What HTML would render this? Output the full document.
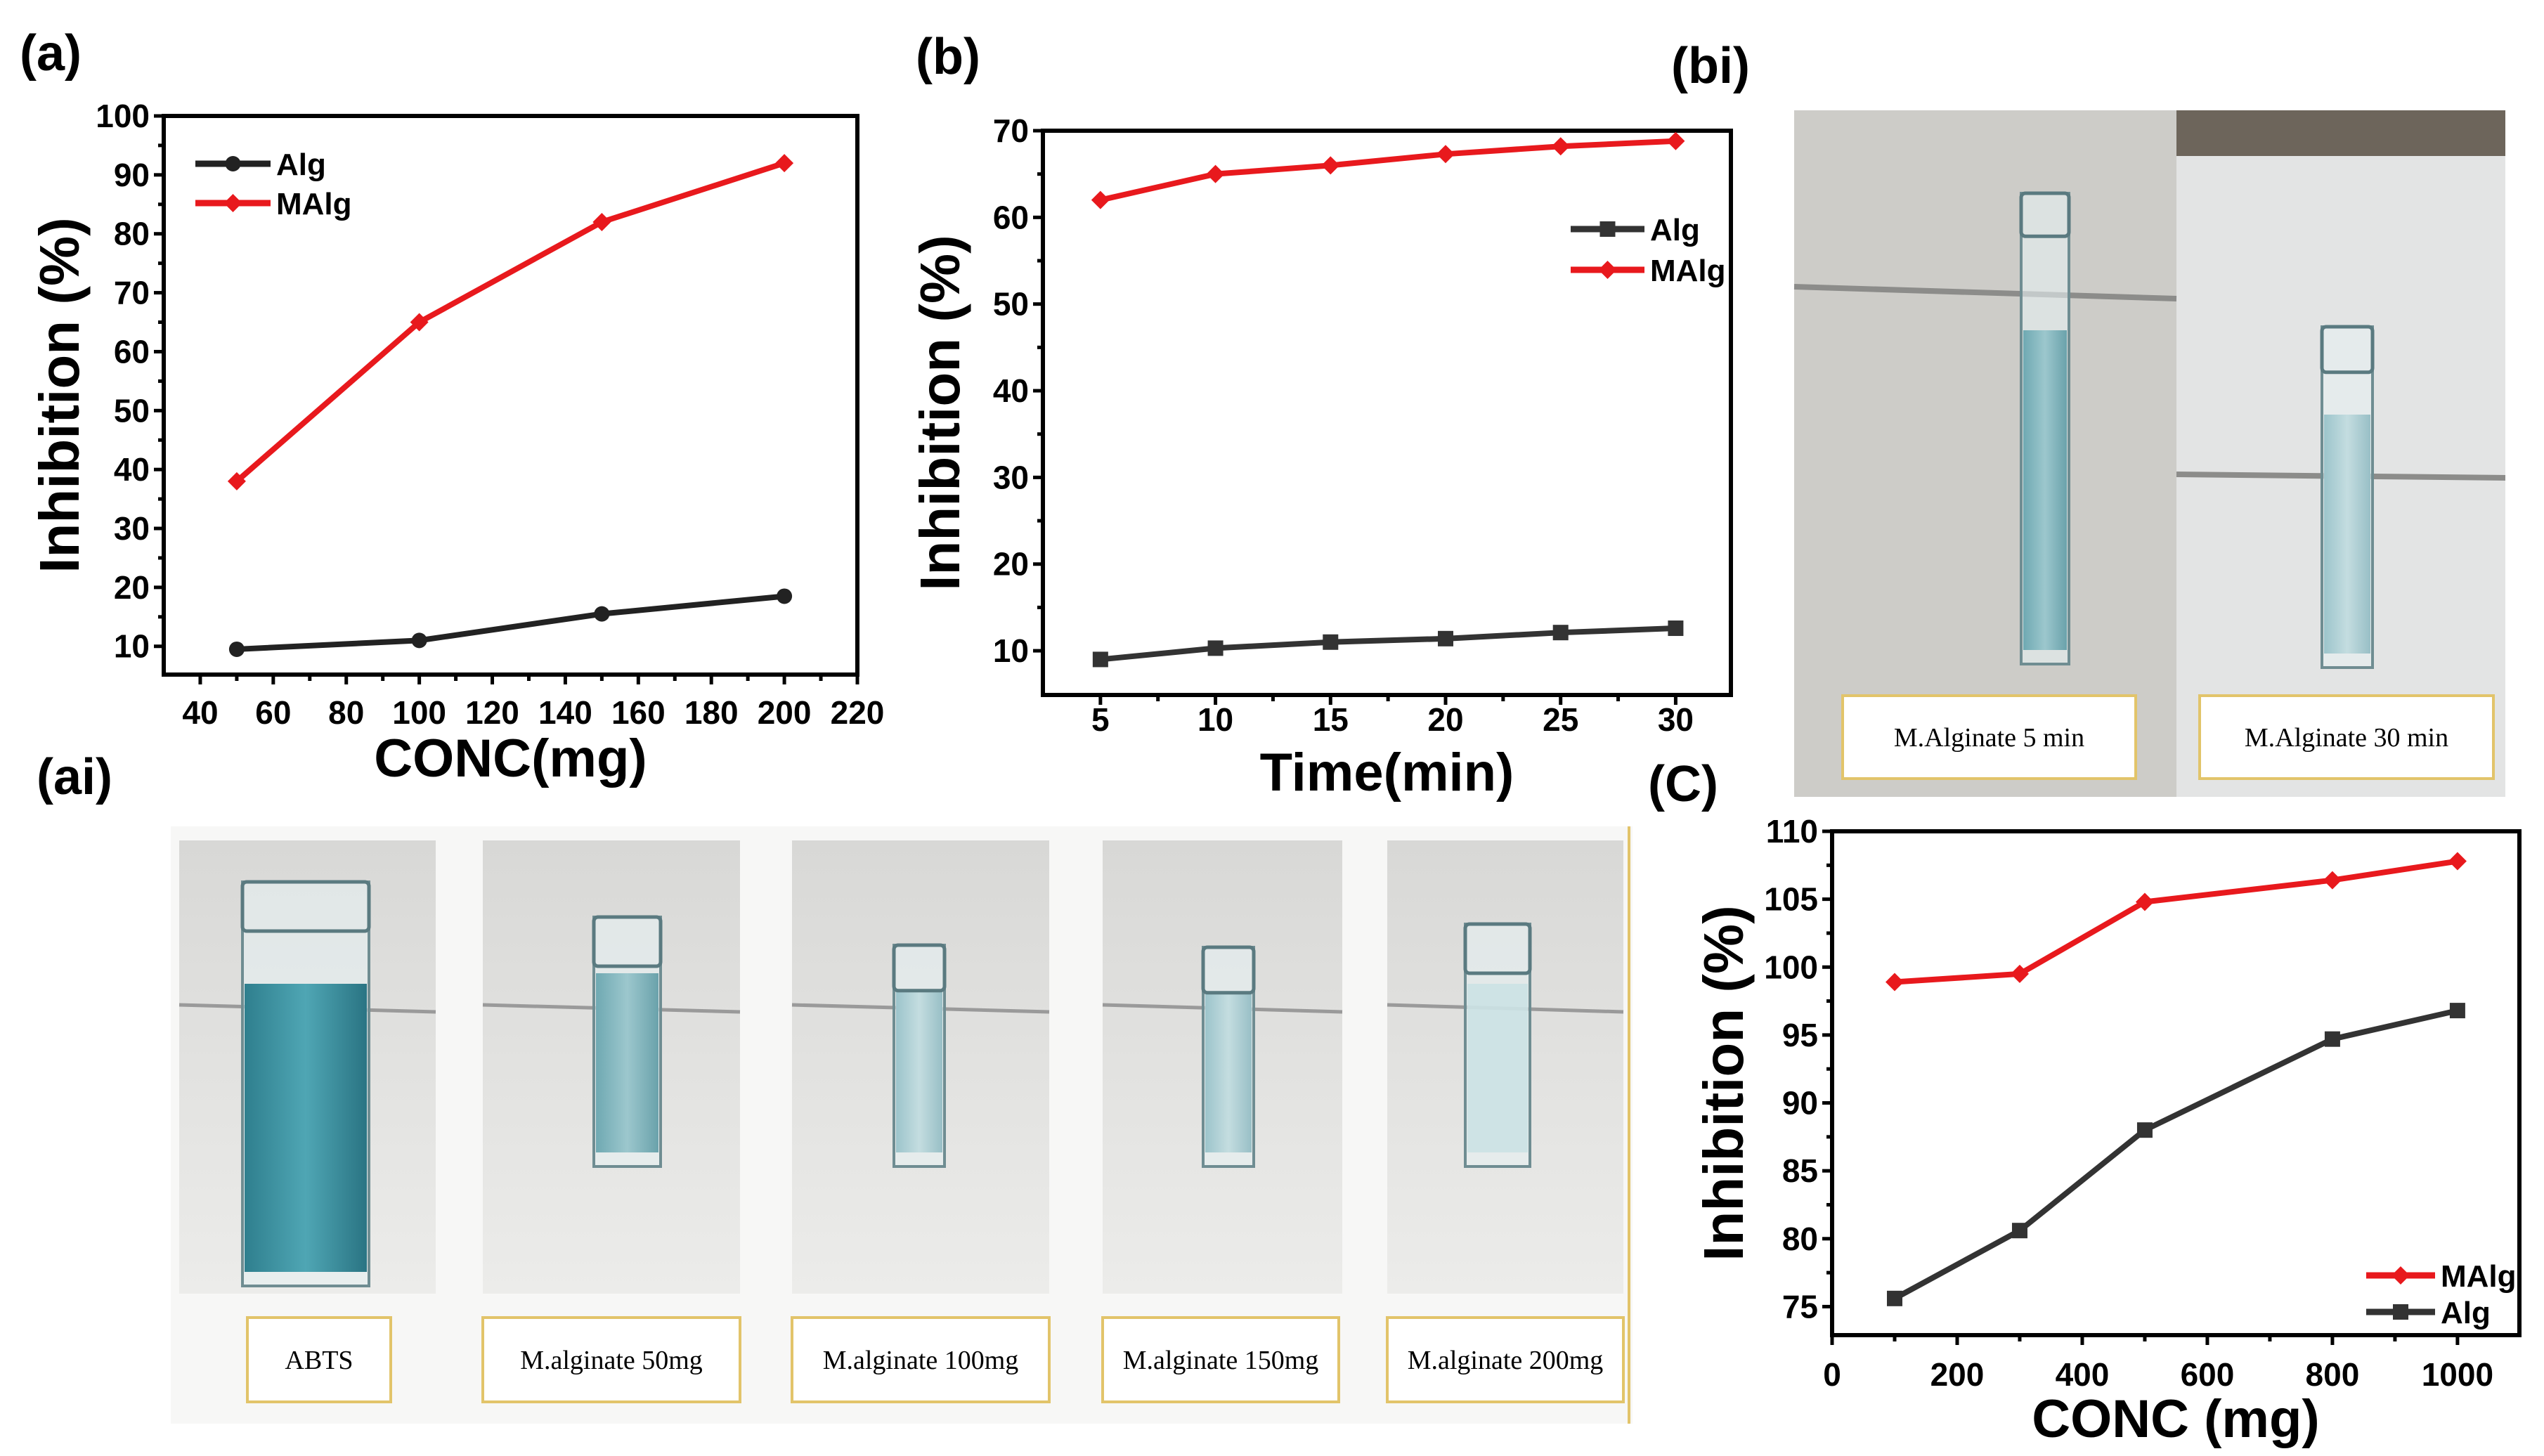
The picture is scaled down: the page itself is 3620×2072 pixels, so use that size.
<!DOCTYPE html>
<html><head><meta charset="utf-8"><style>
html,body{margin:0;padding:0;background:#fff}
svg{display:block}
text{font-family:"Liberation Sans",Arial,sans-serif}
</style></head><body>
<svg id="fig" width="3620" height="2072" viewBox="0 0 3620 2072" xmlns="http://www.w3.org/2000/svg">
<defs>
<linearGradient id="bgB" x1="0" y1="0" x2="0" y2="1"><stop offset="0" stop-color="#d8d8d6"/><stop offset="1" stop-color="#ececea"/></linearGradient>
<linearGradient id="blueDark" x1="0" y1="0" x2="1" y2="0"><stop offset="0" stop-color="#2f7f8e"/><stop offset="0.5" stop-color="#4fa6b4"/><stop offset="1" stop-color="#2a7483"/></linearGradient>
<linearGradient id="blueMid" x1="0" y1="0" x2="1" y2="0"><stop offset="0" stop-color="#6fa9b2"/><stop offset="0.5" stop-color="#9cc7cd"/><stop offset="1" stop-color="#6aa2ab"/></linearGradient>
<linearGradient id="blueLight" x1="0" y1="0" x2="1" y2="0"><stop offset="0" stop-color="#9cc4cb"/><stop offset="0.5" stop-color="#c4dde0"/><stop offset="1" stop-color="#98bfc6"/></linearGradient>
</defs>
<g id="panels"></g>
<g id="charts"></g>
</svg>
<script>
// ---------- data ----------
const aX = [50, 100, 150, 200];
const aMAlg = [38, 65, 82, 92];
const aAlg = [9.5, 11, 15.5, 18.5];
const aXTicks = [40, 60, 80, 100, 120, 140, 160, 180, 200, 220];
const aYTicks = [10, 20, 30, 40, 50, 60, 70, 80, 90, 100];

const bX = [5, 10, 15, 20, 25, 30];
const bMAlg = [62, 65, 66, 67.3, 68.2, 68.8];
const bAlg = [9, 10.3, 11, 11.4, 12.1, 12.6];
const bXTicks = [5, 10, 15, 20, 25, 30];
const bYTicks = [10, 20, 30, 40, 50, 60, 70];

const cX = [100, 300, 500, 800, 1000];
const cMAlg = [98.9, 99.5, 104.8, 106.4, 107.8];
const cAlg = [75.6, 80.6, 88, 94.7, 96.8];
const cXTicks = [0, 200, 400, 600, 800, 1000];
const cYTicks = [75, 80, 85, 90, 95, 100, 105, 110];

const NS = "http://www.w3.org/2000/svg";
function mk(parent, tag, attrs, txt){
  const e = document.createElementNS(NS, tag);
  for (const k in attrs) e.setAttribute(k, attrs[k]);
  if (txt !== undefined) e.textContent = txt;
  parent.appendChild(e);
  return e;
}
const charts = document.getElementById('charts');
const panels = document.getElementById('panels');

function chart(cfg){
  const g = mk(charts, 'g', {});
  
  
  const sx = v => cfg.L + (v - cfg.x0) / (cfg.x1 - cfg.x0) * (cfg.R - cfg.L);
  const sy = v => cfg.B - (v - cfg.y0) / (cfg.y1 - cfg.y0) * (cfg.B - cfg.T);
  const frame = mk(g, 'rect', {x: cfg.L, y: cfg.T, width: cfg.R - cfg.L, height: cfg.B - cfg.T, fill: 'none', stroke: '#000', 'stroke-width': 6});
  
  
  cfg.yTicks.forEach((t, i) => {
    const y = sy(t);
    mk(g, 'line', {x1: cfg.L - 14, x2: cfg.L, y1: y, y2: y, stroke: '#000', 'stroke-width': 5});
    if (i < cfg.yTicks.length - 1) {
      const ym = sy(t + (cfg.yTicks[1] - cfg.yTicks[0]) / 2);
      mk(g, 'line', {x1: cfg.L - 8, x2: cfg.L, y1: ym, y2: ym, stroke: '#000', 'stroke-width': 5});
    }
    const tl = mk(g, 'text', {x: cfg.L - 20, y: y + 16, 'font-size': 46, 'font-weight': 'bold', 'text-anchor': 'end'}, t);
    
    
  });
  cfg.xTicks.forEach((t, i) => {
    const x = sx(t);
    mk(g, 'line', {x1: x, x2: x, y1: cfg.B, y2: cfg.B + 14, stroke: '#000', 'stroke-width': 5});
    if (i > 0) {
      const xm = sx(t - (cfg.xTicks[1] - cfg.xTicks[0]) / 2);
      mk(g, 'line', {x1: xm, x2: xm, y1: cfg.B, y2: cfg.B + 9, stroke: '#000', 'stroke-width': 5});
    }
    const tl = mk(g, 'text', {x: x, y: cfg.tickBase, 'font-size': 46, 'font-weight': 'bold', 'text-anchor': 'middle'}, t);
    
    
  });
  const yt = mk(g, 'text', {x: 0, y: 0, 'font-size': 80, 'font-weight': 'bold', 'text-anchor': 'middle', transform: `translate(${cfg.ytX},${(cfg.T + cfg.B) / 2}) rotate(-90)`}, 'Inhibition (%)');
  
  
  const xt = mk(g, 'text', {x: (cfg.L + cfg.R) / 2, y: cfg.xtY, 'font-size': 76, 'font-weight': 'bold', 'text-anchor': 'middle'}, cfg.xTitle);
  
  

  cfg.series.forEach(s => {
    const pts = cfg.xs.map((x, i) => sx(x) + ',' + sy(s.v[i])).join(' ');
    const pl = mk(g, 'polyline', {points: pts, fill: 'none', stroke: s.color, 'stroke-width': 8, 'stroke-linejoin': 'round'});
    
    
    cfg.xs.forEach((x, i) => {
      const cx = sx(x), cy = sy(s.v[i]);
      let m;
      if (s.marker === 'square') m = mk(g, 'rect', {x: cx - 11, y: cy - 11, width: 22, height: 22, fill: s.color});
      else if (s.marker === 'diamond') m = mk(g, 'polygon', {points: `${cx},${cy-13} ${cx+13},${cy} ${cx},${cy+13} ${cx-13},${cy}`, fill: s.color});
      else m = mk(g, 'circle', {cx: cx, cy: cy, r: 11, fill: s.color});
      
      
    });
  });
  cfg.legend.forEach(l => {
    const lg = mk(g, 'g', {});
    
    
    mk(lg, 'line', {x1: l.x1, x2: l.x2, y1: l.y, y2: l.y, stroke: l.color, 'stroke-width': 9});
    const mx = (l.x1 + l.x2) / 2;
    if (l.marker === 'square') mk(lg, 'rect', {x: mx - 11, y: l.y - 11, width: 22, height: 22, fill: l.color});
    else if (l.marker === 'diamond') mk(lg, 'polygon', {points: `${mx},${l.y-13} ${mx+13},${l.y} ${mx},${l.y+13} ${mx-13},${l.y}`, fill: l.color});
    else mk(lg, 'circle', {cx: mx, cy: l.y, r: 11, fill: l.color});
    mk(lg, 'text', {x: l.x2 + 8, y: l.y + 16, 'font-size': 44, 'font-weight': 'bold'}, l.label);
  });
}

const RED = '#e8191d', BLK = '#222';
chart({name: 'chart-a', L: 233, R: 1220, T: 165, B: 960, x0: 30, x1: 220, y0: 5.2, y1: 100,
  xs: aX, xTicks: aXTicks, yTicks: aYTicks, tickBase: 1030, ytX: 112, xtY: 1105, xTitle: 'CONC(mg)',
  series: [{key: 'malg', v: aMAlg, color: RED, marker: 'diamond'}, {key: 'alg', v: aAlg, color: BLK, marker: 'circle'}],
  legend: [{x1: 278, x2: 385, y: 233, color: BLK, marker: 'circle', label: 'Alg'}, {x1: 278, x2: 385, y: 289, color: RED, marker: 'diamond', label: 'MAlg'}]});
chart({name: 'chart-b', L: 1484, R: 2463, T: 186, B: 989, x0: 2.5, x1: 32.4, y0: 4.9, y1: 70,
  xs: bX, xTicks: bXTicks, yTicks: bYTicks, tickBase: 1040, ytX: 1365, xtY: 1125, xTitle: 'Time(min)',
  series: [{key: 'malg', v: bMAlg, color: RED, marker: 'diamond'}, {key: 'alg', v: bAlg, color: '#333', marker: 'square'}],
  legend: [{x1: 2235, x2: 2340, y: 326, color: '#333', marker: 'square', label: 'Alg'}, {x1: 2235, x2: 2340, y: 384, color: RED, marker: 'diamond', label: 'MAlg'}]});
chart({name: 'chart-c', L: 2607, R: 3585, T: 1183, B: 1900, x0: 0, x1: 1099, y0: 72.9, y1: 110,
  xs: cX, xTicks: cXTicks, yTicks: cYTicks, tickBase: 1972, ytX: 2480, xtY: 2045, xTitle: 'CONC (mg)',
  series: [{key: 'malg', v: cMAlg, color: RED, marker: 'diamond'}, {key: 'alg', v: cAlg, color: '#333', marker: 'square'}],
  legend: [{x1: 3367, x2: 3465, y: 1815, color: RED, marker: 'diamond', label: 'MAlg'}, {x1: 3367, x2: 3465, y: 1867, color: '#333', marker: 'square', label: 'Alg'}]});

// panel letters
[['(a)', 28, 100, 'label-a'], ['(ai)', 52, 1130, 'label-ai'], ['(b)', 1303, 105, 'label-b'], ['(bi)', 2378, 118, 'label-bi'], ['(C)', 2345, 1140, 'label-c']].forEach(p => {
  const t = mk(charts, 'text', {x: p[1], y: p[2], 'font-size': 72, 'font-weight': 'bold'}, p[0]);
  
  
});

// ---------- photos ----------
function cuvette(g, x, w, yTop, yLiq, yBot, fill){
  mk(g, 'rect', {x: x, y: yTop, width: w, height: yBot - yTop, fill: 'rgba(230,240,242,0.6)', stroke: '#6f8d92', 'stroke-width': 4});
  mk(g, 'rect', {x: x + 3, y: yLiq, width: w - 6, height: yBot - yLiq - 20, fill: fill});
  mk(g, 'rect', {x: x, y: yTop, width: w, height: Math.min(w * 0.9, 70), fill: 'none', stroke: '#5a7a80', 'stroke-width': 5, rx: 6});
}
function label(g, x, y, w, h, txt){
  const lg = mk(g, 'g', {});
  
  
  mk(lg, 'rect', {x: x, y: y, width: w, height: h, fill: '#fff', stroke: '#e2c46a', 'stroke-width': 4});
  const t = mk(lg, 'text', {x: x + w / 2, y: y + h / 2 + 13, 'font-size': 38, 'text-anchor': 'middle'}, txt);
  t.style.fontFamily = '"Liberation Serif",serif';
}
const ai = mk(panels, 'g', {});


mk(ai, 'rect', {x: 243, y: 1176, width: 2080, height: 850, fill: '#f7f7f6'});
mk(ai, 'line', {x1: 2318, x2: 2318, y1: 1176, y2: 2026, stroke: '#e2c46a', 'stroke-width': 4});
const photos = [
  {x: 255, w: 365, fill: 'url(#blueDark)', cx: 345, cw: 180, top: 1255, liq: 1400, cap: 'ABTS', lx: 352, lw: 204},
  {x: 687, w: 366, fill: 'url(#blueMid)', cx: 845, cw: 95, top: 1305, liq: 1385, cap: 'M.alginate 50mg', lx: 687, lw: 366},
  {x: 1127, w: 366, fill: 'url(#blueLight)', cx: 1272, cw: 72, top: 1345, liq: 1410, cap: 'M.alginate 100mg', lx: 1127, lw: 366},
  {x: 1569, w: 341, fill: 'url(#blueLight)', cx: 1712, cw: 72, top: 1348, liq: 1415, cap: 'M.alginate 150mg', lx: 1569, lw: 336},
  {x: 1974, w: 336, fill: 'rgba(200,225,228,0.8)', cx: 2085, cw: 92, top: 1315, liq: 1400, cap: 'M.alginate 200mg', lx: 1974, lw: 336}
];
photos.forEach(p => {
  const pg = mk(ai, 'g', {});
  
  
  mk(pg, 'rect', {x: p.x, y: 1196, width: p.w, height: 645, fill: 'url(#bgB)'});
  mk(pg, 'line', {x1: p.x, x2: p.x + p.w, y1: 1430, y2: 1440, stroke: '#9a9a9a', 'stroke-width': 5});
  cuvette(pg, p.cx, p.cw, p.top, p.liq, p.x === 255 ? 1830 : 1660, p.fill);
  label(ai, p.lx, 1875, p.lw, 120, p.cap);
});
const bi = mk(panels, 'g', {});


mk(bi, 'rect', {x: 2553, y: 157, width: 544, height: 977, fill: '#cdccc8'});
mk(bi, 'rect', {x: 3097, y: 157, width: 468, height: 977, fill: '#e3e4e4'});
mk(bi, 'rect', {x: 3097, y: 157, width: 468, height: 65, fill: '#6d655b'});
mk(bi, 'line', {x1: 2553, x2: 3097, y1: 408, y2: 425, stroke: '#8c8c8a', 'stroke-width': 8});
mk(bi, 'line', {x1: 3097, x2: 3565, y1: 675, y2: 680, stroke: '#8c8c8a', 'stroke-width': 8});
cuvette(bi, 2876, 68, 275, 470, 945, 'url(#blueMid)');
cuvette(bi, 3304, 72, 465, 590, 950, 'url(#blueLight)');
label(bi, 2622, 990, 417, 118, 'M.Alginate  5 min');
label(bi, 3130, 990, 418, 118, 'M.Alginate  30 min');
</script>
</body></html>
